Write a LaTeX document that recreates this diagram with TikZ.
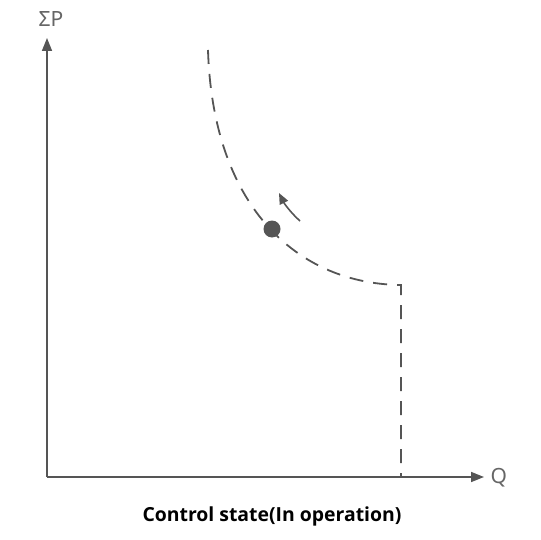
\documentclass[tikz,border=0pt]{standalone}
\usepackage{fontspec}
\setmainfont{Noto Sans}
\newfontfamily\titlefont{Open Sans}
\usetikzlibrary{arrows.meta}
\definecolor{ink}{HTML}{555555}
\definecolor{lblink}{HTML}{666666}
\tikzset{
  axis/.style={draw=ink, line width=1.6pt, -{Triangle[length=13pt,width=10pt]}},
  curve/.style={draw=ink, line width=1.8pt, dash pattern=on 14pt off 10pt},
  lbl/.style={text=lblink, font=\fontsize{21}{21}\selectfont},
}
\begin{document}
\begin{tikzpicture}[x=1pt,y=-1pt]
\useasboundingbox (0,0) rectangle (540,540);
\coordinate (O) at (47,477);
\coordinate (ytip) at (47,38);
\coordinate (xtip) at (484,477);
\draw[axis] (O) -- (ytip);
\draw[axis] (O) -- (xtip);
\node[lbl] (yl) at (51,19) {ΣP};
\node[lbl, anchor=west] (xl) at (487,478) {Q};
\coordinate (c0) at (208,50);
\coordinate (c1) at (401,285);
\coordinate (c2) at (401,477);
\draw[curve] (c0) .. controls (213,210) and (300,284) .. (c1) -- (c2);
\node[circle, fill=ink, minimum size=17pt, inner sep=0pt] (dot) at (272,229) {};
\coordinate (a0) at (300,221);
\coordinate (a1) at (279,193);
\draw[draw=ink, line width=1.6pt, -{Triangle[length=11pt,width=9pt]}] (a0) .. controls (290,212) and (284,203) .. (a1);
\node[font=\titlefont\bfseries\fontsize{19.4}{19.4}\selectfont] (title) at (272,516) {Control state(In operation)};
\end{tikzpicture}
\end{document}
